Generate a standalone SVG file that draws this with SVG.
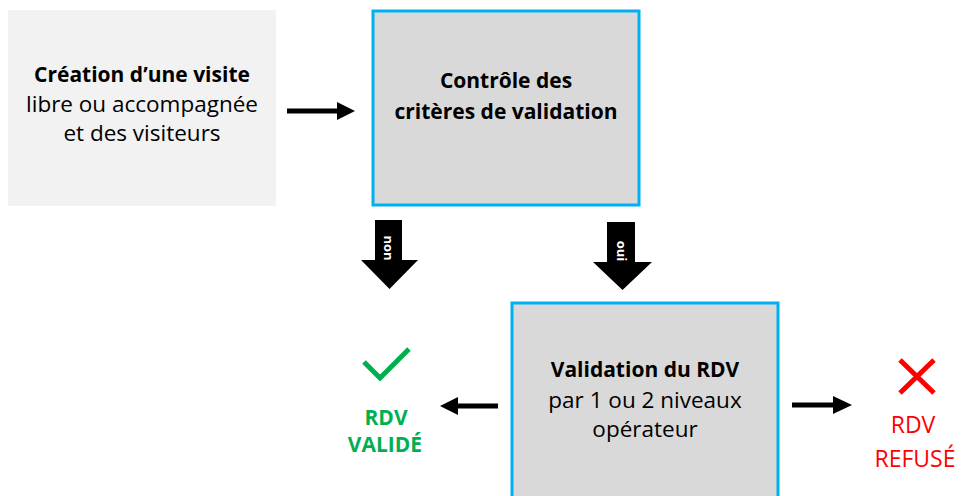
<svg xmlns="http://www.w3.org/2000/svg" width="963" height="496" viewBox="0 0 963 496">
<style>
text{font-family:"Open Sans","Noto Sans","Liberation Sans",sans-serif;font-size:22.5px;fill:#000;text-anchor:middle}
.b{font-weight:bold;font-size:21px}
.box{fill:#d9d9d9;stroke:#00b0f0;stroke-width:3}
.lbl{font-size:13px;font-weight:bold;fill:#fff}
.ok{fill:#00b050;font-weight:bold;font-size:21px}
.ko{fill:#ff0000;font-size:23px}
</style>
<rect width="963" height="496" fill="#fff"/>
<g id="node-creation">
<rect x="8" y="10" width="268" height="196" fill="#f2f2f2"/>
<text x="142" y="82" class="b">Création d’une visite</text>
<text x="142" y="112">libre ou accompagnée</text>
<text x="142" y="141">et des visiteurs</text>
</g>
<g id="node-controle">
<rect class="box" x="373" y="11" width="266" height="194"/>
<text x="506" y="88" class="b">Contrôle des</text>
<text x="506" y="119" class="b">critères de validation</text>
</g>
<g id="node-validation">
<rect class="box" x="512" y="303" width="266" height="200"/>
<text x="645" y="377" class="b">Validation du RDV</text>
<text x="645" y="408">par 1 ou 2 niveaux</text>
<text x="645" y="437">opérateur</text>
</g>
<g id="node-valide">
<polyline points="364,362 380,378 409,349" fill="none" stroke="#00b050" stroke-width="5"/>
<text x="386" y="425" class="ok">RDV</text>
<text x="385" y="452" class="ok">VALIDÉ</text>
</g>
<g id="node-refuse">
<path d="M900,360 L934,393 M934,360 L900,393" stroke="#ff0000" stroke-width="5" fill="none"/>
<text x="913" y="433" class="ko">RDV</text>
<text x="915" y="467" class="ko">REFUSÉ</text>
</g>
<g id="connectors">
<polygon points="287,108.5 337,108.5 337,102 355,111 337,120 337,113.5 287,113.5" fill="#000"/>
<polygon points="375,220 402,220 402,260 418,260 389.5,289 361,260 375,260" fill="#000"/>
<text class="lbl" transform="translate(388.5,248) rotate(90)" dy="4.5">non</text>
<polygon points="607,222 635,222 635,262 652,262 622.5,290 593,262 607,262" fill="#000"/>
<text class="lbl" transform="translate(621,251) rotate(90)" dy="4.5">oui</text>
<polygon points="498,403.5 458,403.5 458,397 440,406 458,415 458,408.5 498,408.5" fill="#000"/>
<polygon points="792,402.5 833,402.5 833,396 852,405 833,414 833,407.5 792,407.5" fill="#000"/>
</g>
</svg>
